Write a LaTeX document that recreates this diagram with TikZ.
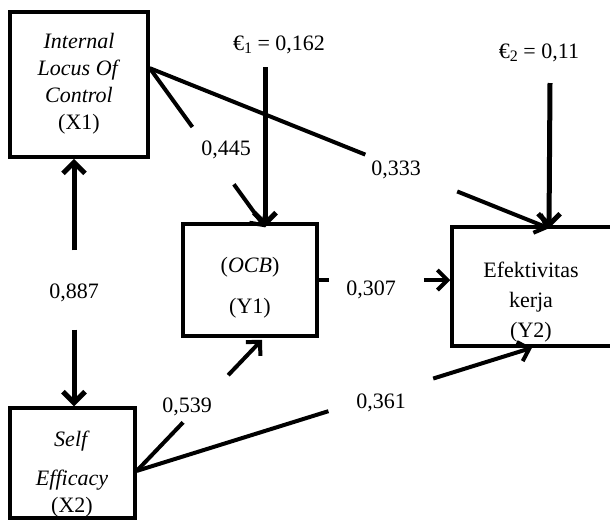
\documentclass[tikz,border=0pt]{standalone}
\usepackage{fontspec}
\setmainfont{Liberation Serif}
\usetikzlibrary{arrows.meta,calc}
\begin{document}
\begin{tikzpicture}[x=1pt,y=-1pt,
  box/.style={draw,line width=3.5pt,rectangle,inner sep=0pt},
  boxtext/.style={align=center,font=\fontsize{22}{27}\selectfont,inner sep=0pt},
  lbl/.style={font=\fontsize{22}{26}\selectfont,inner sep=1pt},
  plain/.style={line width=4pt},
  conn/.style={line width=4pt,-{Straight Barb[length=10pt,width=20pt]}},
  bigconn/.style={line width=5pt,-{Straight Barb[length=11pt,width=22pt]}}]
\useasboundingbox (0,0) rectangle (610,523);

% boxes
\node[box,minimum width=138pt,minimum height=145pt] (X1) at (79,84.5) {};
\node[box,minimum width=125pt,minimum height=110pt] (X2) at (72.5,463) {};
\node[box,minimum width=134pt,minimum height=112pt] (Y1) at (250,280) {};
\node[box,minimum width=160pt,minimum height=119pt] (Y2) at (532,286.5) {};

% box texts
\node[boxtext] (X1t) at (79,84) {\textit{Internal}\\\textit{Locus Of}\\\textit{Control}\\(X1)};
\node[boxtext] (X2t) at (72,474) {\textit{Self}\\[12pt]\textit{Efficacy}\\(X2)};
\node[boxtext] (Y1t) at (250,288) {(\textit{OCB})\\[14pt](Y1)};
\node[boxtext,font=\fontsize{22}{30}\selectfont] (Y2t) at (531,302) {Efektivitas\\kerja\\(Y2)};

% helper points
\coordinate (e1s) at (265,67);
\coordinate (e2s) at (550,83);
\coordinate (y1in) at ($(Y1.north)+(15,5)$);
\coordinate (y2in) at ($(Y2.north)+(17,3)$);
\coordinate (y1bot) at ($(Y1.south)+(12,2)$);
\coordinate (x1s) at ($(X1.south)+(-5,0)$);
\coordinate (x2n) at (x1s |- X2.north);
\coordinate (y2w) at (Y1.east -| Y2.west);

% error arrows
\draw[bigconn] (e1s) -- (y1in);
\draw[bigconn] (e2s) -- (y2in);

% X1 <-> X2
\draw[bigconn] ($(x1s)!0.37!(x2n)$) -- (x1s);
\draw[bigconn] ($(x1s)!0.69!(x2n)$) -- (x2n);

% X1 -> Y1
\draw[plain] (X1.13) -- ($(X1.13)!0.37!(y1in)$);
\draw[conn] ($(X1.13)!0.73!(y1in)$) -- (y1in);
% X1 -> Y2
\draw[plain] (X1.13) -- ($(X1.13)!0.54!(y2in)$);
\draw[conn] ($(X1.13)!0.77!(y2in)$) -- (y2in);
% Y1 -> Y2
\draw[plain] (Y1.east) -- ($(Y1.east)!0.08!(y2w)$);
\draw[conn] ($(Y1.east)!0.80!(y2w)$) -- (y2w);
% X2 -> Y1
\draw[plain] (X2.-7) -- ($(X2.-7)!0.37!(y1bot)$);
\draw[conn] ($(X2.-7)!0.73!(y1bot)$) -- (y1bot);
% X2 -> Y2
\draw[plain] (X2.-7) -- ($(X2.-7)!0.485!(Y2.south)$);
\draw[conn] ($(X2.-7)!0.75!(Y2.south)$) -- (Y2.south);

% labels
\node[lbl] (e1) at (279,45) {€\raisebox{-3pt}{\fontsize{16}{16}\selectfont 1} = 0,162};
\node[lbl] (e2) at (539,53) {€\raisebox{-3pt}{\fontsize{16}{16}\selectfont 2} = 0,11};
\node[lbl] (l887) at (74,293) {0,887};
\node[lbl] (l445) at (226,150) {0,445};
\node[lbl] (l333) at (396,170) {0,333};
\node[lbl] (l307) at (371,290) {0,307};
\node[lbl] (l539) at (187,407) {0,539};
\node[lbl] (l361) at (381,403) {0,361};
\end{tikzpicture}
\end{document}
